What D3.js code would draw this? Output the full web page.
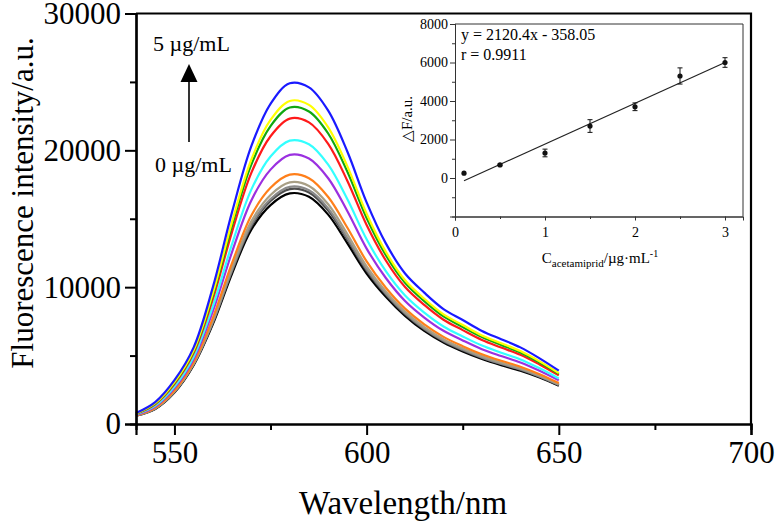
<!DOCTYPE html>
<html>
<head>
<meta charset="utf-8">
<script src="https://cdn.jsdelivr.net/npm/d3@7/dist/d3.min.js"></script>
<style>
html,body{margin:0;padding:0;background:#fff;}
svg{display:block;}
text{font-family:"Liberation Serif","Times New Roman",serif;fill:#000;}
</style>
</head>
<body>
<svg id="chart" width="778" height="528"></svg>
<script>
// ---------- Main spectra data ----------
const wavelengths = [540,545,550,555,560,565,570,575,580,585,590,595,600,605,610,615,620,625,630,635,640,645,650];
const seriesNames = ["0 µg/mL (black)","darkgray","gray","tan","orange","purple","cyan","red","green","yellow","5 µg/mL (blue)"];
const seriesColors = ["#000000","#4d4d4d","#8a8a8a","#a89f86","#ff7f1a","#9b30e0","#33ffff","#ff1a1a","#10a810","#ffff00","#1a1aff"];
const sBlack   = [600,1100,2300,4300,7300,11000,14200,16000,16850,16600,15300,13200,11000,9300,7900,6800,5950,5300,4750,4300,3900,3400,2800];
const sDarkgray= [610,1120,2340,4350,7410,11180,14440,16300,17170,16920,15600,13470,11210,9460,8020,6910,6050,5390,4830,4380,3970,3460,2840];
const sGray    = [610,1130,2350,4380,7460,11270,14570,16440,17330,17080,15760,13600,11310,9530,8090,6970,6100,5440,4870,4410,4000,3480,2870];
const sTan     = [620,1150,2390,4430,7570,11450,14810,16740,17660,17400,16060,13870,11520,9690,8210,7080,6200,5530,4960,4490,4070,3540,2910];
const sOrange  = [630,1190,2450,4520,7760,11770,15240,17260,18220,17960,16590,14340,11880,9960,8430,7280,6370,5690,5100,4620,4190,3640,2990];
const sPurple  = [670,1280,2620,4760,8250,12580,16340,18590,19670,19400,17960,15550,12820,10670,8990,7780,6810,6110,5470,4970,4500,3890,3190];
const sCyan    = [700,1340,2730,4920,8600,13160,17130,19550,20710,20440,18950,16420,13500,11170,9390,8140,7130,6400,5730,5210,4720,4070,3330];
const sRed     = [740,1440,2910,5180,9140,14060,18350,21030,22320,22040,20470,17760,14540,11950,10010,8700,7620,6860,6140,5590,5060,4350,3550];
const sGreen   = [760,1490,3000,5310,9410,14510,18960,21770,23130,22840,21230,18430,15060,12340,10320,8980,7860,7090,6350,5780,5230,4490,3660];
const sYellow  = [770,1520,3060,5390,9570,14780,19320,22220,23610,23320,21680,18830,15370,12580,10500,9150,8010,7230,6470,5900,5330,4580,3720];
const sBlue    = [800,1600,3200,5600,10000,15500,20300,23400,24900,24600,22900,19900,16200,13200,11000,9600,8400,7600,6800,6200,5600,4800,3900];
const seriesValues = [sBlack,sDarkgray,sGray,sTan,sOrange,sPurple,sCyan,sRed,sGreen,sYellow,sBlue];

const xMajorTicks = [550,600,650,700];
const xMinorTicks = [575,625,675];
const yMajorTicks = [0,10000,20000,30000];
const yMinorTicks = [5000,15000,25000];

// ---------- Inset data ----------
const insetConc  = [0.1,0.5,1,1.5,2,2.5,3];
const insetDF    = [250,680,1300,2700,3700,5300,6000];
const insetErr   = [0,40,200,330,200,420,250];
const fitSlope = 2120.4, fitIntercept = -358.05;
const fitRange = [0.1,3];
const insetXTicks = [0,1,2,3];
const insetXMinor = [0.5,1.5,2.5];
const insetYTicks = [0,2000,4000,6000,8000];
const insetYMinor = [-1000,1000,3000,5000,7000];

const svg = d3.select("#chart");

// ---------- Main chart ----------
const x = d3.scaleLinear().domain([540,700]).range([136,751]);
const y = d3.scaleLinear().domain([0,30000]).range([424,13.5]);

const line = d3.line().x((d,i)=>x(wavelengths[i])).y(d=>y(d)).curve(d3.curveCatmullRom.alpha(0.5));
const gLines = svg.append("g");
seriesValues.forEach((vals,k)=>{
  gLines.append("path").attr("d",line(vals)).attr("fill","none")
    .attr("stroke",seriesColors[k]).attr("stroke-width",2.2).attr("stroke-linejoin","round");
});

// axes
const xAxis = svg.append("g").attr("transform",`translate(0,${y(0)})`)
  .call(d3.axisBottom(x).tickValues(xMajorTicks).tickSize(11).tickPadding(6).tickFormat(d3.format("d")));
const xAxisMinor = svg.append("g").attr("transform",`translate(0,${y(0)})`)
  .call(d3.axisBottom(x).tickValues(xMinorTicks).tickSize(6).tickFormat(""));
const yAxis = svg.append("g").attr("transform",`translate(${x(540)},0)`)
  .call(d3.axisLeft(y).tickValues(yMajorTicks).tickSize(11).tickPadding(4).tickFormat(d3.format("d")));
const yAxisMinor = svg.append("g").attr("transform",`translate(${x(540)},0)`)
  .call(d3.axisLeft(y).tickValues(yMinorTicks).tickSize(6).tickFormat(""));
[xAxis,xAxisMinor,yAxis,yAxisMinor].forEach(g=>{
  g.select(".domain").attr("stroke","#000").attr("stroke-width",2.2);
  g.selectAll(".tick line").attr("stroke","#000").attr("stroke-width",2);
  g.selectAll(".tick text").style("font-family","'Liberation Serif','Times New Roman',serif").style("font-size","31px").attr("fill","#000");
});
// top / right frame
svg.append("path")
  .attr("d",`M${x(540)},${y(30000)}H${x(700)}V${y(0)}`)
  .attr("fill","none").attr("stroke","#000").attr("stroke-width",2.2);

// axis titles
svg.append("text").attr("x",403).attr("y",514).attr("text-anchor","middle")
  .style("font-size","33px").text("Wavelength/nm");
svg.append("text").attr("transform",`translate(33,203) rotate(-90)`)
  .attr("text-anchor","middle").style("font-size","31px").text("Fluorescence intensity/a.u.");

// arrow annotation
svg.append("text").attr("x",153).attr("y",51).style("font-size","22px").text("5 µg/mL");
svg.append("text").attr("x",155).attr("y",172).style("font-size","22px").text("0 µg/mL");
svg.append("line").attr("x1",189).attr("x2",189).attr("y1",142).attr("y2",80).attr("stroke","#000").attr("stroke-width",1.6);
svg.append("path").attr("d","M189,64L180.5,82L197.5,82Z").attr("fill","#000");

// ---------- Inset ----------
const ix = d3.scaleLinear().domain([0,3.2]).range([455,743]);
const iy = d3.scaleLinear().domain([-2000,8000]).range([216.5,24]);

const iAxB = svg.append("g").attr("transform",`translate(0,${iy(-2000)})`)
  .call(d3.axisBottom(ix).tickValues(insetXTicks).tickSize(4).tickPadding(7).tickFormat(d3.format("d")));
const iAxBm = svg.append("g").attr("transform",`translate(0,${iy(-2000)})`)
  .call(d3.axisBottom(ix).tickValues(insetXMinor).tickSize(2.5).tickFormat(""));
const iAxL = svg.append("g").attr("transform",`translate(${ix(0)},0)`)
  .call(d3.axisLeft(iy).tickValues(insetYTicks).tickSize(5).tickPadding(2).tickFormat(d3.format("d")));
const iAxLm = svg.append("g").attr("transform",`translate(${ix(0)},0)`)
  .call(d3.axisLeft(iy).tickValues(insetYMinor).tickSize(3).tickFormat(""));
[iAxB,iAxBm,iAxL,iAxLm].forEach(g=>{
  g.select(".domain").attr("stroke","#333").attr("stroke-width",1);
  g.selectAll(".tick line").attr("stroke","#333").attr("stroke-width",1);
  g.selectAll(".tick text").style("font-family","'Liberation Serif','Times New Roman',serif").style("font-size","14px").attr("fill","#222");
});
svg.append("path").attr("d",`M${ix(0)},${iy(8000)}H${ix(3.2)}V${iy(-2000)}`)
  .attr("fill","none").attr("stroke","#333").attr("stroke-width",1);

// fit line
svg.append("line")
  .attr("x1",ix(fitRange[0])).attr("y1",iy(fitSlope*fitRange[0]+fitIntercept))
  .attr("x2",ix(fitRange[1])).attr("y2",iy(fitSlope*fitRange[1]+fitIntercept))
  .attr("stroke","#222").attr("stroke-width",1.2);

// error bars & points
const gPts = svg.append("g");
insetConc.forEach((c,i)=>{
  const cx = ix(c), v = insetDF[i], e = insetErr[i];
  if (e>0){
    gPts.append("line").attr("x1",cx).attr("x2",cx).attr("y1",iy(v-e)).attr("y2",iy(v+e)).attr("stroke","#111").attr("stroke-width",1);
    [v-e,v+e].forEach(yy=>gPts.append("line").attr("x1",cx-2.5).attr("x2",cx+2.5).attr("y1",iy(yy)).attr("y2",iy(yy)).attr("stroke","#111").attr("stroke-width",1));
  }
  gPts.append("circle").attr("cx",cx).attr("cy",iy(v)).attr("r",2.6).attr("fill","#111");
});

// inset texts
svg.append("text").attr("x",461).attr("y",40).style("font-size","16px").attr("fill","#222").text("y = 2120.4x - 358.05");
svg.append("text").attr("x",461).attr("y",60).style("font-size","16px").attr("fill","#222").text("r = 0.9911");
const xl = svg.append("text").attr("x",600).attr("y",263).attr("text-anchor","middle").style("font-size","15px").attr("fill","#222");
xl.append("tspan").text("C");
xl.append("tspan").attr("dy",4).style("font-size","11px").text("acetamiprid");
xl.append("tspan").attr("dy",-4).text("/µg·mL");
xl.append("tspan").attr("dy",-6).style("font-size","10px").text("-1");
svg.append("text").attr("transform",`translate(412,119) rotate(-90)`).attr("text-anchor","middle")
  .style("font-size","15px").attr("fill","#222").text("△F/a.u.");
</script>
</body>
</html>
